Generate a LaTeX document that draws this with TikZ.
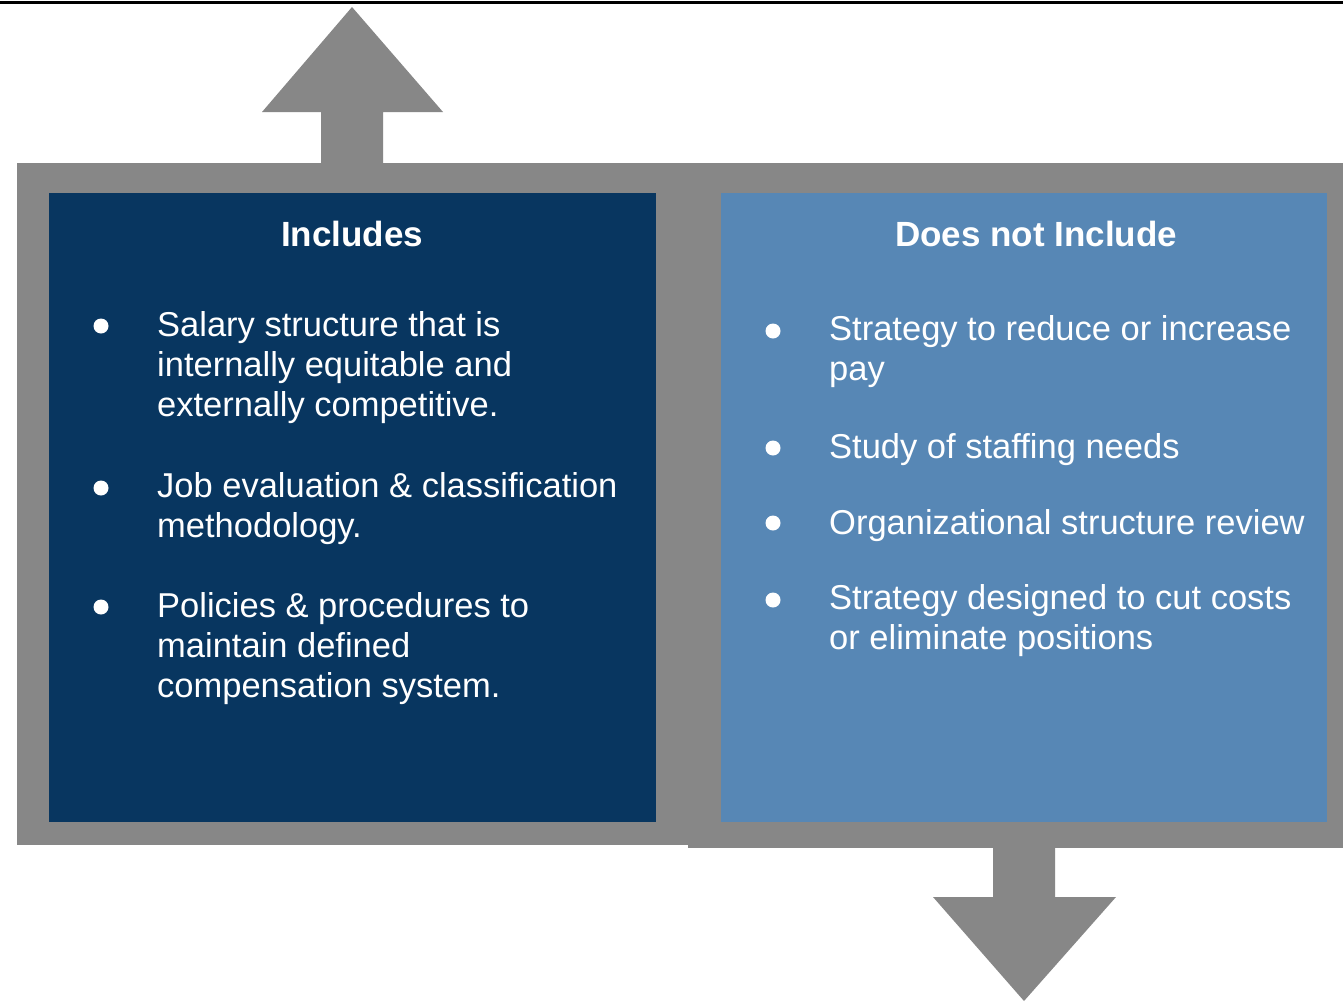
\documentclass[tikz,border=0pt]{standalone}
\usepackage{fontspec}
\setmainfont{Liberation Sans}
\definecolor{framegray}{HTML}{878787}
\definecolor{navy}{HTML}{083660}
\definecolor{steel}{HTML}{5787B5}
\begin{document}
\begin{tikzpicture}[x=1pt,y=-1pt,
  frame/.style={fill=framegray, draw=none, inner sep=0pt, outer sep=0pt, anchor=north west},
  panel/.style={draw=none, inner sep=0pt, outer sep=0pt, anchor=north west},
  title/.style={text=white, font=\fontsize{35}{40}\selectfont\bfseries, anchor=base, inner sep=0pt},
  item/.style={text=white, font=\fontsize{34.5}{40.3}\selectfont, anchor=base west, inner sep=0pt},
  dot/.style={circle, fill=white, draw=none, minimum size=15pt, inner sep=0pt},
  bigarrow/.style={fill=framegray, draw=none}]

\useasboundingbox (0,0) rectangle (1343,1001);
\fill[white] (0,0) rectangle (1343,1001);
\draw[line width=3pt] (0,2.5) -- (1343,2.5);

% frames
\node[frame, minimum width=671pt, minimum height=682pt] (lframe) at (17,163) {};
\node[frame, minimum width=655pt, minimum height=685pt] (rframe) at (688,163) {};

% arrows
\fill[bigarrow] (321,164) -- (321,112) -- (262,112) -- (352,7) -- (443,112) -- (383,112) -- (383,164) -- cycle;
\fill[bigarrow] (993,847) -- (993,897) -- (933,897) -- (1024,1001) -- (1116,897) -- (1055,897) -- (1055,847) -- cycle;

% panels
\node[panel, fill=navy, minimum width=607pt, minimum height=629pt] (lpanel) at (49,193) {};
\node[panel, fill=steel, minimum width=606pt, minimum height=629pt] (rpanel) at (721,193) {};

% titles
\node[title] (ltitle) at (352,246) {Includes};
\node[title] (rtitle) at (1036,246) {Does not Include};

% left items
\node[dot] (lb1) at (101,326) {};
\node[item] (li1) at (157,336) {\vtop{\hbox{Salary structure that is}\hbox{internally equitable and}\hbox{externally competitive.}}};
\node[dot] (lb2) at (101,488) {};
\node[item] (li2) at (157,497) {\vtop{\hbox{Job evaluation \& classification}\hbox{methodology.}}};
\node[dot] (lb3) at (101,607) {};
\node[item] (li3) at (157,617) {\vtop{\hbox{Policies \& procedures to}\hbox{maintain defined}\hbox{compensation system.}}};

% right items
\node[dot] (rb1) at (773,331) {};
\node[item] (ri1) at (829,340) {\vtop{\hbox{Strategy to reduce or increase}\hbox{pay}}};
\node[dot] (rb2) at (773,448) {};
\node[item] (ri2) at (829,458) {Study of staffing needs};
\node[dot] (rb3) at (773,523) {};
\node[item] (ri3) at (829,534) {Organizational structure review};
\node[dot] (rb4) at (773,600) {};
\node[item] (ri4) at (829,609) {\vtop{\hbox{Strategy designed to cut costs}\hbox{or eliminate positions}}};
\end{tikzpicture}
\end{document}
